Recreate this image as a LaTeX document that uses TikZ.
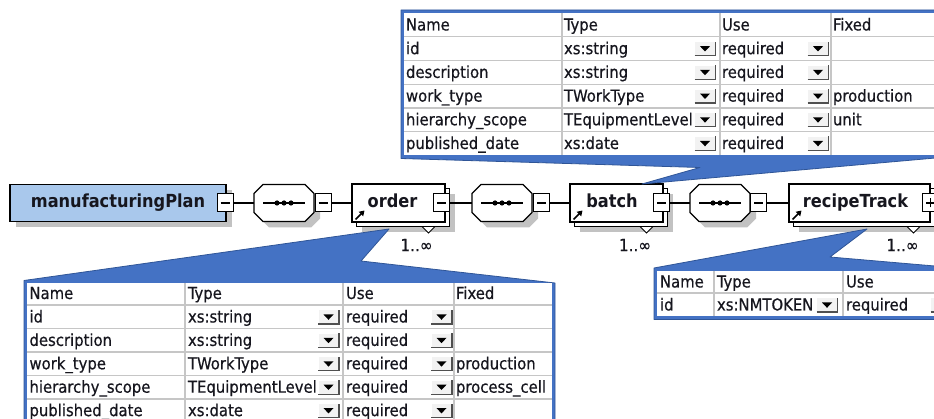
\documentclass[tikz,border=0pt]{standalone}
\usepackage{fontspec}
\setmainfont{DejaVu Sans Condensed}
\newfontfamily\cellfont{DejaVu Sans Condensed}[FakeBold=0.5]
\usetikzlibrary{shadows,arrows.meta}

\definecolor{calloutblue}{HTML}{4472C4}
\definecolor{calloutedge}{HTML}{2F5597}
\definecolor{rootfill}{HTML}{A9C8EC}
\definecolor{shadowgray}{HTML}{C2C2C2}
\definecolor{gridgray}{HTML}{C6C6C6}
\definecolor{inktext}{HTML}{16161E}
\definecolor{btnface}{HTML}{F2F2F2}
\definecolor{btndark}{HTML}{505050}

\tikzset{
  % drop-down button of a table cell
  ddbtn/.pic={
    \fill[btnface] (-10.5,-7) rectangle (10.5,7);
    \draw[white, line width=1pt] (-10.5,7) -- (-10.5,-7) -- (10.5,-7);
    \draw[btndark, line width=1.2pt] (-10.5,7) -- (10.5,7) -- (10.5,-7);
    \fill[black] (-5,-2.5) -- (5,-2.5) -- (0,2.8) -- cycle;
  },
  % sequence compositor: octagon with shadow and the dotted line
  seqsym/.pic={
    \fill[shadowgray] (-15,-12.5) -- (27,-12.5) -- (36,-3.5) -- (36,15.5) -- (27,24.5)
                     -- (-15,24.5) -- (-24,15.5) -- (-24,-3.5) -- cycle;
    \draw[line width=1.1pt, fill=white] (-21,-18.5) -- (21,-18.5) -- (30,-9.5) -- (30,9.5) -- (21,18.5)
                     -- (-21,18.5) -- (-30,9.5) -- (-30,-9.5) -- cycle;
    \draw[line width=1.1pt] (-21,0) -- (21,0);
    \foreach \dx in {-7,0,7} \fill (\dx,0) circle (2.6);
  }
}

\begin{document}
\begin{tikzpicture}[x=1pt,y=-1pt,
  every node/.style={inner sep=0pt, outer sep=0pt},
  flatshadow/.style={drop shadow={shadow xshift=6pt, shadow yshift=-6pt, fill=shadowgray, draw=none, opacity=1}},
  stackshadow/.style={drop shadow={shadow xshift=10pt, shadow yshift=-10pt, fill=shadowgray, draw=none, opacity=1},
                      copy shadow={shadow xshift=4.5pt, shadow yshift=-4.5pt}},
  elem/.style={draw=black, line width=1.1pt, fill=white, minimum height=38pt,
               font=\fontsize{18}{20}\selectfont\bfseries, text=inktext},
  lbl/.style={font=\fontsize{18}{20}\selectfont\bfseries, text=inktext, text height=13pt, text depth=4pt},
  seqbox/.style={minimum width=60pt, minimum height=37pt},
  tbtn/.style={draw=black, line width=1pt, fill=white, minimum width=16pt, minimum height=18pt},
  minusbtn/.style={tbtn, path picture={\draw[line width=1.1pt]
      ([xshift=-4.5pt]path picture bounding box.center) -- ([xshift=4.5pt]path picture bounding box.center);}},
  plusbtn/.style={tbtn, path picture={\draw[line width=1.1pt]
      ([xshift=-4.5pt]path picture bounding box.center) -- ([xshift=4.5pt]path picture bounding box.center)
      ([yshift=-4.5pt]path picture bounding box.center) -- ([yshift=4.5pt]path picture bounding box.center);}},
  wire/.style={draw=black, line width=1.1pt},
  multi/.style={font=\cellfont\fontsize{17}{18}\selectfont, text=inktext},
  refarrow/.style={line width=1.7pt, -{Triangle[length=5pt,width=6pt]}},
  occtri/.style={draw=black, line width=0.9pt, fill=white},
  cell/.style={anchor=base west, font=\cellfont\fontsize{16.5}{18}\selectfont, text=inktext},
  grid/.style={draw=gridgray, line width=1.2pt},
  callout/.style={fill=calloutblue, draw=calloutedge, line width=0.8pt, line join=round}
]
\useasboundingbox (0,0) rectangle (934,419);
\fill[white] (0,0) rectangle (934,419);

% ---------- element chain ----------
\node[elem, fill=rootfill, minimum width=216pt, minimum height=37pt, flatshadow] (mp) at (118,203) {manufacturingPlan};
\node[minusbtn] (mpBtn) at (225,203) {};

\node[seqbox] (seq1) at (284,203) {};
\pic at (seq1.center) {seqsym};
\node[minusbtn] (seq1Btn) at (323,203) {};

\node[elem, minimum width=93pt, stackshadow] (order) at (398.5,203) {};
\node[lbl] (orderLbl) at (392.5,203) {order};
\node[minusbtn] (orderBtn) at (441.5,203) {};

\node[seqbox] (seq2) at (502,203) {};
\pic at (seq2.center) {seqsym};
\node[minusbtn] (seq2Btn) at (541.5,203) {};

\node[elem, minimum width=93pt, stackshadow] (batch) at (616.5,203) {};
\node[lbl] (batchLbl) at (612,203) {batch};
\node[minusbtn] (batchBtn) at (661.5,203) {};

\node[seqbox] (seq3) at (720,203) {};
\pic at (seq3.center) {seqsym};
\node[minusbtn] (seq3Btn) at (758.5,203) {};

\node[elem, minimum width=141pt, stackshadow] (recipe) at (859.5,203) {};
\node[lbl] (recipeLbl) at (855.5,203) {recipeTrack};
\node[plusbtn] (recipeBtn) at (930.5,203) {};

% connectors
\draw[wire] (mpBtn.east) -- (seq1.west);
\draw[wire] (seq1Btn.east) -- (order.west);
\draw[wire] (orderBtn.east) -- (seq2.west);
\draw[wire] (seq2Btn.east) -- (batch.west);
\draw[wire] (batchBtn.east) -- (seq3.west);
\draw[wire] (seq3Btn.east) -- (recipe.west);

% reference arrows, occurrence markers and multiplicities
\foreach \e in {order,batch,recipe}{
  \draw[refarrow] ([shift={(3.5,-2.5)}]\e.south west) -- ++(9,-9);
  \draw[occtri] ([shift={(-23,4.5)}]\e.south east) -- ++(13,0) -- ++(-6.5,6.5) -- cycle;
}
\node[multi] (orderMult) at (416.5,245) {1..∞};
\node[multi] (batchMult) at (635,245) {1..∞};
\node[multi] (recipeMult) at (902.5,245) {1..∞};

% ---------- callouts ----------
\path[callout] (401,10) -- (958,10) -- (958,156) -- (642,184) -- (700,167.5) -- (401,158.5) -- cycle;
\path[callout] (24,280.5) -- (389,229) -- (361,261) -- (555,283) -- (555,430) -- (24,430) -- cycle;
\path[callout] (654,268) -- (867,229) -- (830,257) -- (958,268) -- (958,319.5) -- (654,319.5) -- cycle;

% ---------- attribute table of batch ----------
\fill[white] (404,13) rectangle (960,155.5);
\foreach \yy in {36.9,60.6,84.3,108,131.7} \draw[grid] (404,\yy) -- (960,\yy);
\foreach \xx in {562,720,831} \draw[grid] (\xx,13) -- (\xx,155.5);
\node[cell] (ta-hn) at (406,30.5) {Name};
\node[cell] (ta-ht) at (564,30.5) {Type};
\node[cell] (ta-hu) at (722,30.5) {Use};
\node[cell] (ta-hf) at (833,30.5) {Fixed};
\foreach \n/\t/\f [count=\i] in {id/xs:string/{},description/xs:string/{},work\_type/TWorkType/production,hierarchy\_scope/TEquipmentLevel/unit,published\_date/xs:date/{}}{
  \pgfmathsetmacro\yb{48.7+23.7*(\i-1)+5.5}
  \node[cell] (ta-n\i) at (406,\yb) {\n};
  \node[cell] (ta-t\i) at (564,\yb) {\t};
  \node[cell] (ta-u\i) at (722,\yb) {required};
  \node[cell] (ta-f\i) at (833,\yb) {\f};
  \pic at (705,\yb-5.5) {ddbtn};
  \pic at (818,\yb-5.5) {ddbtn};
}

% ---------- attribute table of order ----------
\fill[white] (27,283) rectangle (552,430);
\foreach \yy in {305,328.7,352.1,375.5,398.9} \draw[grid] (27,\yy) -- (552,\yy);
\foreach \xx in {185,343,454} \draw[grid] (\xx,283) -- (\xx,430);
\node[cell] (tb-hn) at (29.5,299) {Name};
\node[cell] (tb-ht) at (188,299) {Type};
\node[cell] (tb-hu) at (346,299) {Use};
\node[cell] (tb-hf) at (456,299) {Fixed};
\foreach \n/\t/\f [count=\i] in {id/xs:string/{},description/xs:string/{},work\_type/TWorkType/production,hierarchy\_scope/TEquipmentLevel/process\_cell,published\_date/xs:date/{}}{
  \pgfmathsetmacro\yb{317+23.4*(\i-1)+5.5}
  \node[cell] (tb-n\i) at (29.5,\yb) {\n};
  \node[cell] (tb-t\i) at (188,\yb) {\t};
  \node[cell] (tb-u\i) at (346,\yb) {required};
  \node[cell] (tb-f\i) at (456,\yb) {\f};
  \pic at (328.5,\yb-5.5) {ddbtn};
  \pic at (441.5,\yb-5.5) {ddbtn};
}

% ---------- attribute table of recipeTrack ----------
\fill[white] (657,271) rectangle (960,316.5);
\draw[grid] (657,293) -- (960,293);
\foreach \xx in {714,843} \draw[grid] (\xx,271) -- (\xx,316.5);
\node[cell] (tc-hn) at (660,287.5) {Name};
\node[cell] (tc-ht) at (717,287.5) {Type};
\node[cell] (tc-hu) at (846,287.5) {Use};
\node[cell] (tc-n1) at (660,310.5) {id};
\node[cell] (tc-t1) at (717,310.5) {xs:NMTOKEN};
\node[cell] (tc-u1) at (846,310.5) {required};
\pic at (827,305) {ddbtn};
\pic at (941,305) {ddbtn};
\end{tikzpicture}
\end{document}
